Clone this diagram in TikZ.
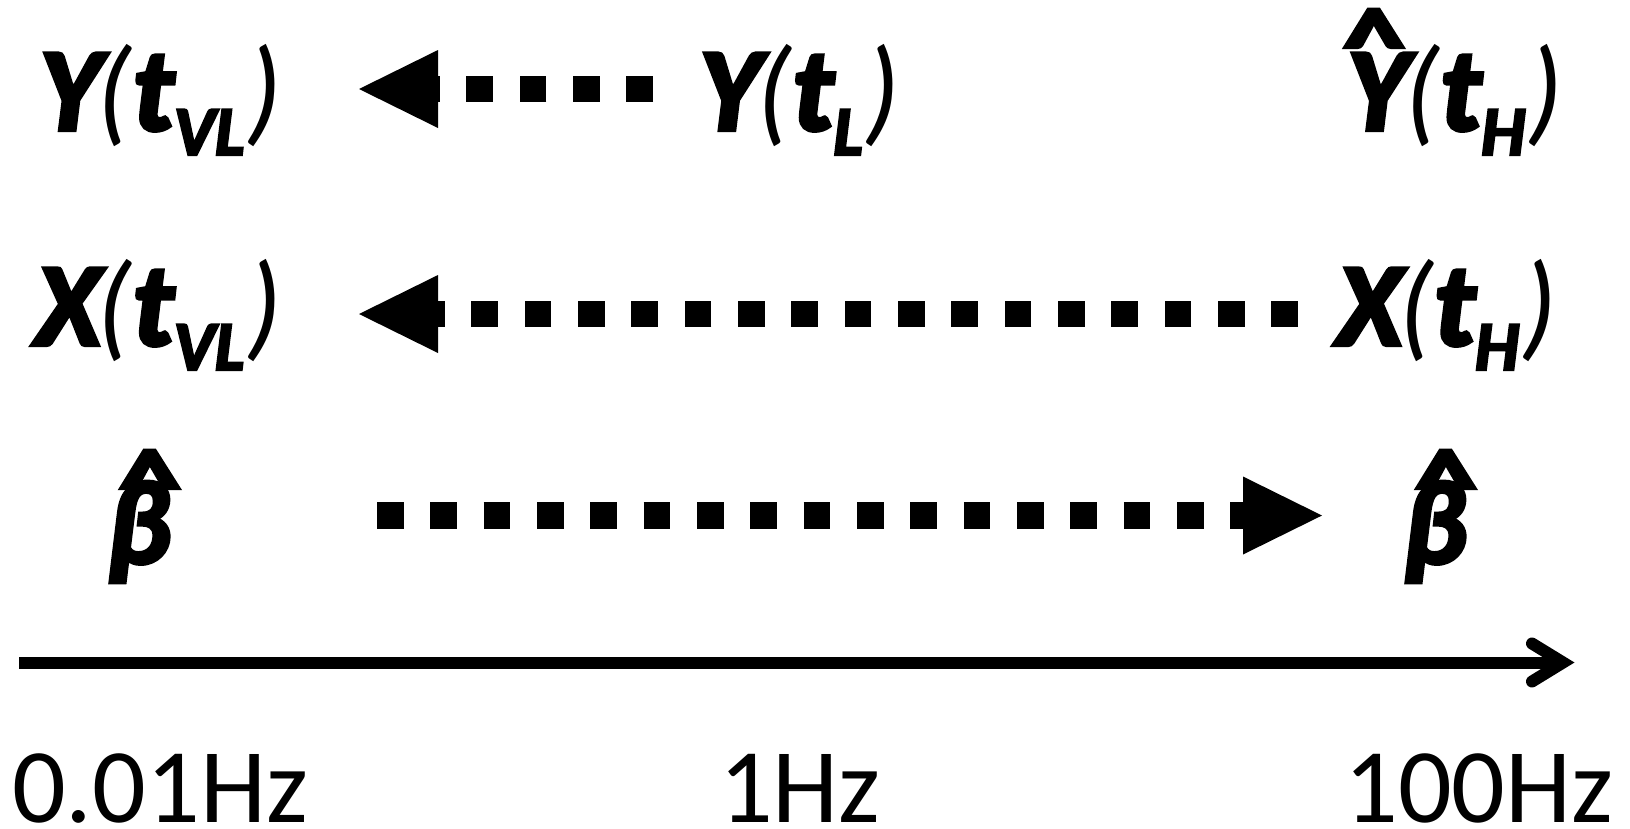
\documentclass[tikz,border=0pt]{standalone}
\usepackage{fontspec}
\setmainfont{Carlito}[BoldItalicFeatures={FakeBold=3.5},BoldFeatures={FakeBold=3.5}]
\usetikzlibrary{arrows.meta,calc}
\newcommand\tlab[2]{#1\kern-4pt{\mdseries\itshape(}t\raisebox{-25pt}{\fontsize{70}{70}\selectfont #2}\kern2pt{\mdseries\itshape)}}
\newcommand\hatover[3]{\makebox[0pt][l]{\hspace{#1}\raisebox{#2}{\bfseries\upshape\scalebox{1.05}[0.88]{\char`\^}}}#3}
\begin{document}
\begin{tikzpicture}[x=1pt,y=-1pt,
  mathlbl/.style={inner sep=0pt, anchor=base, font=\fontsize{118}{120}\selectfont\bfseries\itshape},
  freq/.style={inner sep=0pt, anchor=base, font=\fontsize{106}{110}\selectfont},
  dotline/.style={line width=26.67pt, dash pattern=on 26.67pt off 26.67pt, line cap=butt},
  head/.style={-{Triangle[length=79pt,width=78pt,line width=0pt]}},
  axisline/.style={line width=12pt}]
\useasboundingbox (0,0) rectangle (1630,828);
% row 1
\node[mathlbl] (yvl) at (161,130) {\tlab{Y}{VL}};
\node[mathlbl] (yl) at (800,130) {\tlab{Y}{L}};
\node[mathlbl] (yh) at (1455,130) {\tlab{\hatover{-4pt}{49.6pt}{Y}}{H}};
% row 2
\node[mathlbl] (xvl) at (159,345) {\tlab{X}{VL}};
\node[mathlbl] (xh) at (1447,345) {\tlab{X}{H}};
% row 3
\node[mathlbl] (bl) at (139,563) {\hatover{12pt}{41.6pt}{β}};
\node[mathlbl] (br) at (1435,563) {\hatover{12pt}{41.6pt}{β}};
% frequency labels
\node[freq] (f1) at (160,822) {0.01Hz};
\node[freq] (f2) at (800,822) {1Hz};
\node[freq] (f3) at (1479,822) {100Hz};
% arrows
\coordinate (r1s) at (653,89);
\coordinate (r1t) at (359,89);
\coordinate (r2s) at (1298,314);
\coordinate (r2t) at (359,314);
\coordinate (r3s) at (377,515.5);
\coordinate (r3t) at (1322,515.5);
\draw[dotline, head] (r1s) -- (r1t);
\draw[dotline, head] (r2s) -- (r2t);
\draw[dotline, head] (r3s) -- (r3t);
% axis
\coordinate (ax0) at (19,662.5);
\coordinate (ax1) at (1563,662.5);
\draw[axisline] (ax0) -- (ax1);
\draw[axisline, line cap=round, line join=miter] ($(ax1)+(-31,-19)$) -- (ax1) -- ($(ax1)+(-31,19)$);
\end{tikzpicture}
\end{document}
